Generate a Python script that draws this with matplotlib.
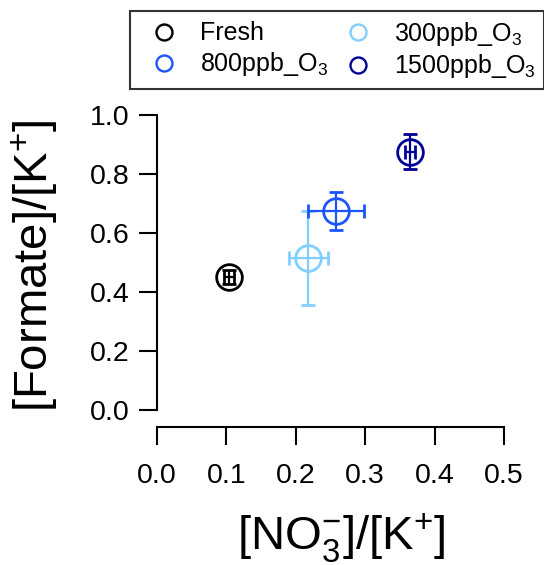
import numpy as np
import matplotlib
matplotlib.use('Agg')
import matplotlib.pyplot as plt

plt.rcParams['font.family'] = ['Liberation Sans', 'DejaVu Sans']
plt.rcParams['mathtext.fontset'] = 'custom'
plt.rcParams['mathtext.rm'] = 'Liberation Sans'
plt.rcParams['mathtext.it'] = 'Liberation Sans'
plt.rcParams['mathtext.default'] = 'regular'

# ratio data for each exposure condition
labels = ['Fresh', '300ppb_O$_3$', '800ppb_O$_3$', '1500ppb_O$_3$']
colors = ['black', '#80CFFF', '#1A55FF', '#000096']
no3_k = [0.104, 0.218, 0.258, 0.365]
no3_k_err = [0.007, 0.028, 0.040, 0.007]
formate_k = [0.452, 0.515, 0.675, 0.876]
formate_k_err = [0.024, 0.160, 0.064, 0.060]

fig = plt.figure(figsize=(5.44, 5.65), dpi=100)
ax = fig.add_axes([157/544, 1 - 410/565, 347/544, 295/565])

for i in range(len(labels)):
    ax.errorbar(no3_k[i], formate_k[i], xerr=no3_k_err[i], yerr=formate_k_err[i],
                fmt='o', ms=18.5, mfc='none', mec=colors[i], mew=2.0,
                ecolor=colors[i], elinewidth=1.6, capsize=5, capthick=1.6,
                clip_on=False)

ax.set_xlim(0, 0.5)
ax.set_ylim(0, 1.0)
xt = np.arange(0, 0.51, 0.1)
yt = np.arange(0, 1.01, 0.2)
ax.set_xticks(xt)
ax.set_yticks(yt)
ax.set_xticklabels(['%.1f' % v for v in xt])
ax.set_yticklabels(['%.1f' % v for v in yt])

for s in ['top', 'right']:
    ax.spines[s].set_visible(False)
ax.spines['bottom'].set_position(('outward', 12))
for s in ['left', 'bottom']:
    ax.spines[s].set_linewidth(1.5)
ax.tick_params(axis='both', direction='out', length=13, width=1.5,
               labelsize=20.5, color='black')
ax.tick_params(axis='x', pad=13)
ax.tick_params(axis='y', pad=7)

ax.set_xlabel('[NO$_3^{-}$]/[K$^{+}$]', fontsize=34)
ax.set_ylabel('[Formate]/[K$^{+}$]', fontsize=34)
ax.xaxis.set_label_coords(0.53, -0.345)
ax.yaxis.set_label_coords(-0.28, 0.488)

# legend entries fill column-wise: Fresh, 800 | 300, 1500
order = [0, 2, 1, 3]
leg_handles = []
for i in order:
    ln, = ax.plot([], [], 'o', ms=11.5, mfc='none', mec=colors[i], mew=1.7)
    leg_handles.append(ln)
leg = fig.legend(leg_handles, [labels[i] for i in order], ncol=2,
                 loc='upper left', bbox_to_anchor=(130/544, 1 - 11/565),
                 fontsize=18, frameon=True, fancybox=False, shadow=False,
                 borderaxespad=0, borderpad=0.34, labelspacing=0.2,
                 handlelength=2.0, handletextpad=0.44, columnspacing=0.22)
leg.get_frame().set_edgecolor('black')
leg.get_frame().set_linewidth(1.5)

fig.savefig('out.png', dpi=100)
